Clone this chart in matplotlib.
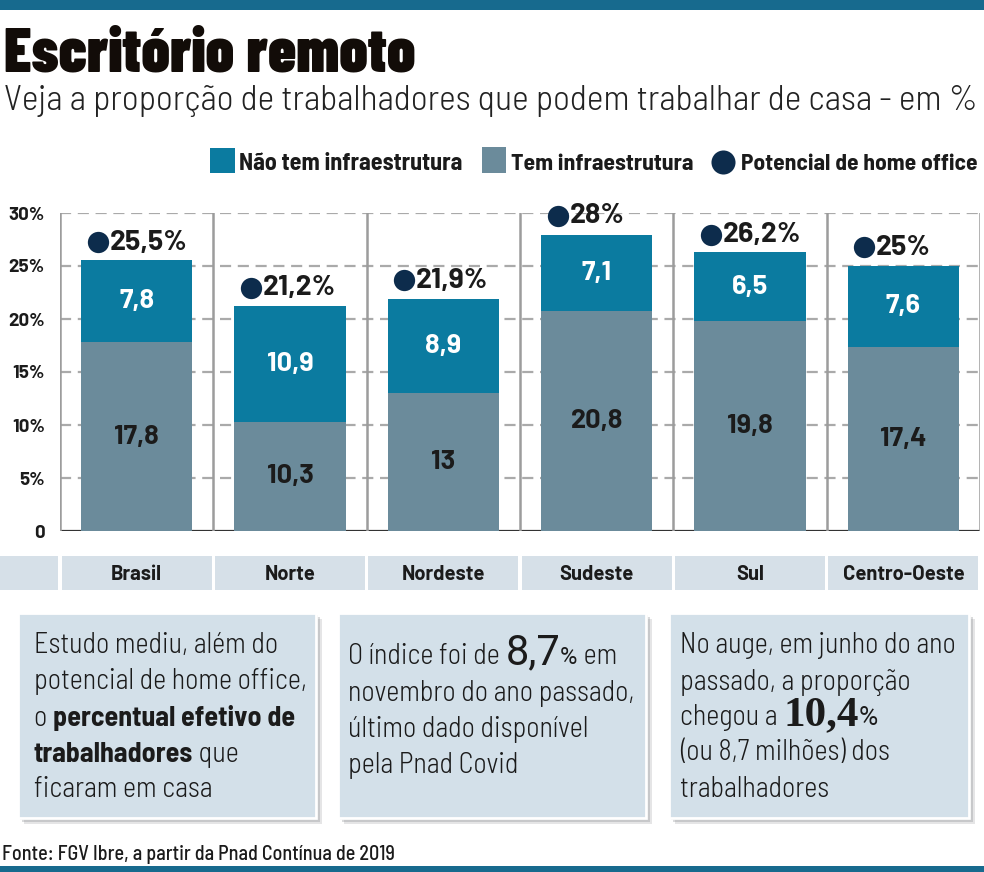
import matplotlib
matplotlib.use("Agg")
import matplotlib.pyplot as plt
from matplotlib.patches import Rectangle
from matplotlib.transforms import blended_transform_factory

# dados (FGV Ibre, Pnad Contínua 2019)
regioes = ["Brasil", "Norte", "Nordeste", "Sudeste", "Sul", "Centro-Oeste"]
tem_infra = [17.8, 10.3, 13, 20.8, 19.8, 17.4]
nao_tem_infra = [7.8, 10.9, 8.9, 7.1, 6.5, 7.6]
potencial = [25.5, 21.2, 21.9, 28, 26.2, 25]
y_ticks = [0, 5, 10, 15, 20, 25, 30]
y_tick_labels = ["0", "5%", "10%", "15%", "20%", "25%", "30%"]

AZUL = "#0b7ba0"
CINZA = "#6b8b9b"
MARINHO = "#0d2c4c"
FAIXA = "#d6e0e8"
CAIXA = "#d3e0e9"
TOPO = "#176a8e"
TXT = "#1b1b1b"

COND = ["Barlow Condensed", "DejaVu Sans"]
SEMI = ["Barlow Semi Condensed", "DejaVu Sans"]
NUM = ["Barlow", "DejaVu Sans"]

W, H = 984, 872
fig = plt.figure(figsize=(W / 100, H / 100), dpi=100)
fig.patch.set_facecolor("white")
renderer = fig.canvas.get_renderer()

# camada de fundo em pixels (y para baixo)
bg = fig.add_axes([0, 0, 1, 1], zorder=0)
bg.set_xlim(0, W)
bg.set_ylim(H, 0)
bg.axis("off")


def largura(s, **kw):
    t = bg.text(0, 0, "|" + s + "|", **kw)
    t2 = bg.text(0, 0, "||", **kw)
    w = t.get_window_extent(renderer).width - t2.get_window_extent(renderer).width
    t.remove()
    t2.remove()
    return w


def ajusta(t, alvo):
    # ajusta o tamanho da fonte para ocupar a largura do original
    w = t.get_window_extent(renderer).width
    t.set_fontsize(t.get_fontsize() * alvo / w)


def linha(x, y, partes):
    for s, kw in partes:
        bg.text(x, y, s, va="baseline", ha="left", color=TXT, **kw)
        x += largura(s, **kw)


# barras do topo e da base
bg.add_patch(Rectangle((0, 0), W, 10, color=TOPO, lw=0))
bg.add_patch(Rectangle((0, 866), W, 6, color=TOPO, lw=0))

# título e subtítulo
t = bg.text(4, 72, "Escritório remoto", family=COND, weight=900, fontsize=40,
            color="#120c08", va="baseline")
ajusta(t, 411)
t = bg.text(4, 110, "Veja a proporção de trabalhadores que podem trabalhar de casa - em %",
            family=SEMI, weight=300, fontsize=24, color="#222222", va="baseline")
ajusta(t, 974)

# legenda
leg_kw = dict(family=SEMI, weight=700, fontsize=15, color=TXT, va="baseline")
bg.add_patch(Rectangle((210, 148), 25, 25, color=AZUL, lw=0))
t = bg.text(239, 170, "Não tem infraestrutura", **leg_kw)
ajusta(t, 223)
bg.add_patch(Rectangle((482, 147), 24, 26, color=CINZA, lw=0))
t = bg.text(511, 170, "Tem infraestrutura", **leg_kw)
ajusta(t, 182)
bg.scatter([723], [162], s=300, color=MARINHO, lw=0)
t = bg.text(741, 170, "Potencial de home office", **leg_kw)
ajusta(t, 236)

# gráfico
ax = fig.add_axes([60 / W, (H - 531) / H, 920 / W, 318 / H], zorder=1)
ax.set_facecolor("none")
x = list(range(len(regioes)))
ax.set_xlim(-0.5, len(regioes) - 0.5)
ax.set_ylim(0, 30)
for s in ax.spines.values():
    s.set_visible(False)
ax.set_xticks([])
ax.set_yticks(y_ticks, y_tick_labels)
ax.tick_params(axis="y", length=0, pad=11)
for lb in ax.get_yticklabels():
    lb.set_family(NUM)
    lb.set_weight(700)
    lb.set_fontsize(13.5)
    lb.set_color(TXT)

for v in y_ticks[1:]:
    ax.axhline(v, color="#aaaaaa", lw=1.6, dashes=(5, 3), zorder=0)
ax.axhline(0, color="#333333", lw=1.6, zorder=0)
for xv in [i - 0.5 for i in range(len(regioes) + 1)]:
    ax.axvline(xv, color="#9c9c9c", lw=1.8, zorder=0.5)

larg = 0.725
ax.bar(x, tem_infra, width=larg, color=CINZA, zorder=2)
ax.bar(x, nao_tem_infra, bottom=tem_infra, width=larg, color=AZUL, zorder=2)


def fmt(v):
    return f"{v:g}".replace(".", ",")


for i in x:
    ax.text(i, tem_infra[i] / 2, fmt(tem_infra[i]), ha="center", va="center",
            family=NUM, weight=700, fontsize=19.5, color=TXT, zorder=3)
    ax.text(i, tem_infra[i] + nao_tem_infra[i] / 2, fmt(nao_tem_infra[i]),
            ha="center", va="center", family=NUM, weight=700, fontsize=19.5,
            color="white", zorder=3)

dx = -0.255
ax.scatter([i + dx for i in x], [p + 1.75 for p in potencial], s=235,
           color=MARINHO, lw=0, zorder=4, clip_on=False)
for i in x:
    ax.annotate(fmt(potencial[i]) + "%", (i + dx, potencial[i] + 1.75),
                xytext=(8.5, 0), textcoords="offset points", va="center", ha="left",
                family=NUM, weight=700, fontsize=20.5, color=TXT, zorder=4,
                annotation_clip=False)

# faixa com os nomes das regiões
tr = blended_transform_factory(ax.transData, bg.transData)
bg.add_patch(Rectangle((0, 556), 58, 34, color=FAIXA, lw=0))
for i in x:
    ax.add_patch(Rectangle((i - 0.49, 556), 0.98, 34, transform=tr, color=FAIXA,
                           lw=0, clip_on=False))
    ax.text(i, 574, regioes[i], transform=tr, ha="center", va="center",
            family=NUM, weight=700, fontsize=14.5, color=TXT)

# caixas de texto
caixas = [(18, 298), (338, 308), (669, 300)]
for cx, cw in caixas:
    for off, a in [(6, 0.18), (4, 0.25), (2, 0.3)]:
        bg.add_patch(Rectangle((cx + off, 613 + off), cw, 205, color="#6f7377",
                               alpha=a, lw=0))
    bg.add_patch(Rectangle((cx, 613), cw, 205, facecolor=CAIXA, edgecolor="white", lw=2))

N = dict(family=SEMI, weight=300, fontsize=16.5)
N["fontsize"] = 16.5 * 273 / largura("potencial de home office,", **N)
B = dict(N, weight=700)
B["fontsize"] = N["fontsize"] * 242 / largura("percentual efetivo de", **B)
G1 = dict(family=["Roboto", "DejaVu Sans"], weight=400, fontsize=30)
G2 = dict(family=["Liberation Serif", "DejaVu Serif"], weight=700, fontsize=31)
P1 = dict(family=["Roboto", "DejaVu Sans"], weight=400, fontsize=17)
P2 = dict(family=["Roboto", "DejaVu Sans"], weight=400, fontsize=19)

linha(34, 653, [("Estudo mediu, além do", N)])
linha(34, 689, [("potencial de home office,", N)])
linha(34, 726, [("o ", N), ("percentual efetivo de", B)])
linha(34, 762, [("trabalhadores", B), (" que", N)])
linha(34, 797, [("ficaram em casa", N)])

linha(348, 664, [("O índice foi de ", N), ("8,7", G1), ("%", P1), (" em", N)])
linha(348, 701, [("novembro do ano passado,", N)])
linha(348, 737, [("último dado disponível", N)])
linha(348, 773, [("pela Pnad Covid", N)])

linha(680, 653, [("No auge, em junho do ano", N)])
linha(680, 690, [("passado, a proporção", N)])
linha(680, 725, [("chegou a ", N), ("10,4", G2), ("%", P2)])
linha(680, 760, [("(ou 8,7 milhões) dos", N)])
linha(680, 797, [("trabalhadores", N)])

# fonte
t = bg.text(2, 860, "Fonte: FGV Ibre, a partir da Pnad Contínua de 2019", family=SEMI,
            weight=500, fontsize=13, color=TXT, va="baseline")
ajusta(t, 391)

fig.savefig("out.png", dpi=100)
